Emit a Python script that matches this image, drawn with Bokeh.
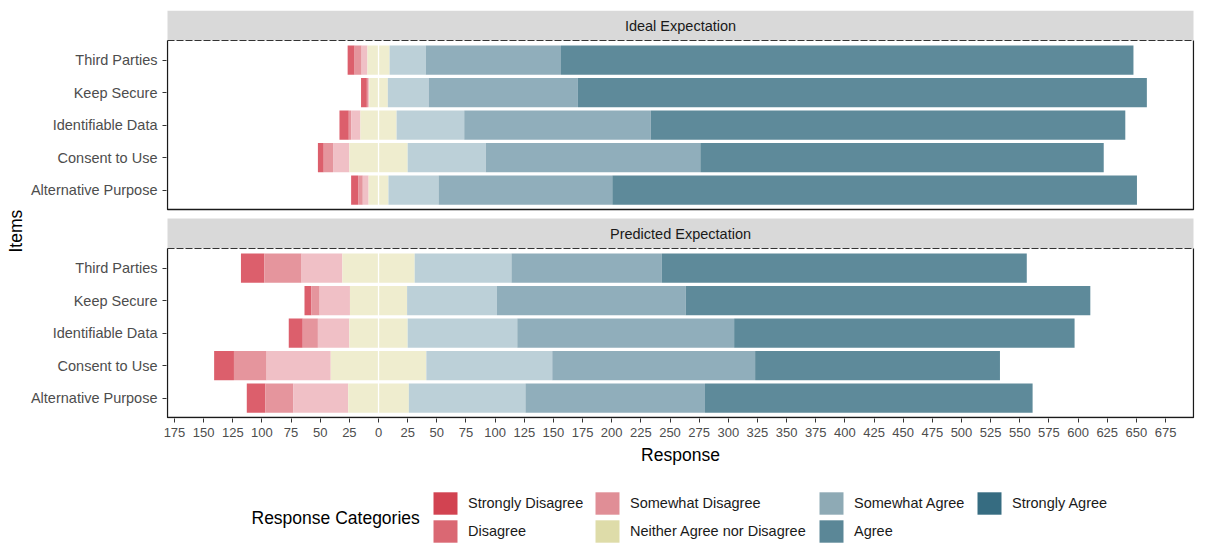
from bokeh.plotting import figure
from bokeh.layouts import column
from bokeh.models import Range1d, FixedTicker, Legend, LegendItem, Label, Title, ColumnDataSource
from bokeh.core.properties import value
from bokeh.embed import file_html
from bokeh.resources import INLINE

# ---------------- data ----------------
items = ["Third Parties", "Keep Secure", "Identifiable Data", "Consent to Use", "Alternative Purpose"]
panels = ["Ideal Expectation", "Predicted Expectation"]
categories = ["Strongly Disagree", "Disagree", "Somewhat Disagree",
              "Neither Agree nor Disagree", "Somewhat Agree", "Agree", "Strongly Agree"]

ideal_strongly_disagree = [6, 5, 8, 5, 6]
ideal_disagree = [6, 1, 2, 8, 4]
ideal_somewhat_disagree = [5, 1, 8, 14, 5]
ideal_neither = [19, 16, 31, 50, 17]
ideal_somewhat_agree = [31, 35, 58, 67, 43]
ideal_agree = [116, 128, 160, 184, 149]
ideal_strongly_agree = [491, 488, 407, 346, 450]

predicted_strongly_disagree = [20, 6, 12, 17, 16]
predicted_disagree = [32, 7, 13, 28, 24]
predicted_somewhat_disagree = [35, 26, 27, 55, 47]
predicted_neither = [62, 49, 50, 82, 52]
predicted_somewhat_agree = [83, 77, 94, 108, 100]
predicted_agree = [129, 162, 186, 174, 154]
predicted_strongly_agree = [313, 347, 292, 210, 281]

x_ticks = list(range(-175, 700, 25))
x_tick_labels = [str(abs(t)) for t in x_ticks]

# ---------------- styles ----------------
bar_colors = ["#dc5f6c", "#e5959d", "#f0c0c6", "#efedcf", "#bcd0d8", "#90aebb", "#5e8a9a"]
legend_colors = ["#d24351", "#da6873", "#e08e96", "#dedca9", "#8eaab5", "#5b8797", "#366c81"]
FONT = "Liberation Sans"

panel_data = {
    "Ideal Expectation": [ideal_strongly_disagree, ideal_disagree, ideal_somewhat_disagree,
                          ideal_neither, ideal_somewhat_agree, ideal_agree, ideal_strongly_agree],
    "Predicted Expectation": [predicted_strongly_disagree, predicted_disagree, predicted_somewhat_disagree,
                              predicted_neither, predicted_somewhat_agree, predicted_agree,
                              predicted_strongly_agree],
}

# layout (pixels)
W = 1214
H_MAIN, H_LEG = 480, 64
FRAME_LEFT, FRAME_TOP = 166, 10
FRAME_W, FRAME_H = 1028, 408
STRIP_H, PANEL_H, GAP = 30, 169, 9
pitch = PANEL_H / (len(items) - 1 + 1.2)
p2_bottom = 1
p2_top = p2_bottom + PANEL_H
s2_top = p2_top + STRIP_H
p1_bottom = s2_top + GAP
p1_top = p1_bottom + PANEL_H
s1_top = p1_top + STRIP_H
panel_box = {"Ideal Expectation": (p1_bottom, p1_top, s1_top),
             "Predicted Expectation": (p2_bottom, p2_top, s2_top)}

# ---------------- segment geometry from data ----------------
seg = {c: {"y": [], "left": [], "right": []} for c in categories}
all_left, all_right = [], []
tick_pos = {}
for pname in panels:
    sd, d, swd, n, swa, a, sa = panel_data[pname]
    bottom, top, _ = panel_box[pname]
    for i, item in enumerate(items):
        yc = top - (0.6 + i) * pitch
        tick_pos[yc] = item
        half = n[i] / 2.0
        edges_left = [-half]
        for v in (swd[i], d[i], sd[i]):
            edges_left.append(edges_left[-1] - v)
        edges_right = [half]
        for v in (swa[i], a[i], sa[i]):
            edges_right.append(edges_right[-1] + v)
        for k, cat in zip((1, 2, 3), ("Somewhat Disagree", "Disagree", "Strongly Disagree")):
            seg[cat]["y"].append(yc); seg[cat]["left"].append(edges_left[k]); seg[cat]["right"].append(edges_left[k - 1])
        seg["Neither Agree nor Disagree"]["y"].append(yc)
        seg["Neither Agree nor Disagree"]["left"].append(-half)
        seg["Neither Agree nor Disagree"]["right"].append(half)
        for k, cat in zip((1, 2, 3), ("Somewhat Agree", "Agree", "Strongly Agree")):
            seg[cat]["y"].append(yc); seg[cat]["left"].append(edges_right[k - 1]); seg[cat]["right"].append(edges_right[k])
        all_left.append(edges_left[-1]); all_right.append(edges_right[-1])

lo, hi = min(all_left), max(all_right)
xlo, xhi = lo - 0.05 * (hi - lo), hi + 0.05 * (hi - lo)
u = (xhi - xlo) / (FRAME_W - 2)

p = figure(width=W, height=H_MAIN, output_backend="svg", toolbar_location=None,
           x_range=Range1d(xlo - u, xhi + u), y_range=Range1d(0, FRAME_H),
           min_border_left=FRAME_LEFT, min_border_right=W - FRAME_LEFT - FRAME_W,
           min_border_top=FRAME_TOP, min_border_bottom=H_MAIN - FRAME_TOP - FRAME_H)
p.outline_line_color = None
p.xgrid.visible = False
p.ygrid.visible = False
p.background_fill_color = "white"
p.border_fill_color = "white"

# strips
for pname in panels:
    bottom, top, stop = panel_box[pname]
    p.quad(left=[xlo], right=[xhi], bottom=[top], top=[stop], fill_color="#d9d9d9", line_color=None)
    p.text(x=[(xlo + xhi) / 2], y=[(top + stop) / 2], text=[pname], text_align="center",
           text_baseline="middle", text_font=value(FONT), text_font_size="14.5px", text_color="#1a1a1a")

# bars
bar_h = 0.9 * pitch
for cat, col in zip(categories, bar_colors):
    src = ColumnDataSource(seg[cat])
    p.hbar(y="y", left="left", right="right", height=bar_h, source=src, fill_color=col, line_color=None)

# zero line and panel borders
for pname in panels:
    bottom, top, stop = panel_box[pname]
    p.segment(x0=[0], y0=[bottom], x1=[0], y1=[top], line_color="white", line_width=1.3)
    p.line(x=[xlo, xlo, xhi, xhi], y=[top, bottom, bottom, top], line_color="#1a1a1a", line_width=1.3)
    p.line(x=[xlo, xhi], y=[top, top], line_color="#333333", line_width=1.2, line_dash="7 2")

# axes
p.xaxis.ticker = FixedTicker(ticks=x_ticks)
p.xaxis.major_label_overrides = dict(zip(x_ticks, x_tick_labels))
p.xaxis.axis_label = "Response"
p.yaxis.ticker = FixedTicker(ticks=list(tick_pos.keys()))
p.yaxis.major_label_overrides = dict(tick_pos)
for ax in (p.xaxis[0], p.yaxis[0]):
    ax.axis_line_color = None
    ax.major_tick_in = 0
    ax.major_tick_out = 4
    ax.major_tick_line_color = "#333333"
    ax.minor_tick_line_color = None
    ax.major_label_text_font = FONT
    ax.major_label_text_color = "#4d4d4d"
    ax.major_label_standoff = 5
    ax.axis_label_text_font = FONT
    ax.axis_label_text_font_style = "normal"
    ax.axis_label_text_font_size = "17.5px"
    ax.axis_label_text_color = "black"
p.xaxis.major_label_text_font_size = "13px"
p.yaxis.major_label_text_font_size = "14.5px"
p.xaxis.axis_label_standoff = 5

# y-axis title "Items" (left side panel, placed a little below the frame centre as in the reference)
p.add_layout(Title(text="Items", align="left", offset=166, standoff=3, text_font=FONT,
                   text_font_size="17.5px", text_font_style="normal", text_color="black"), "left")

# ---------------- legend figure ----------------
lg = figure(width=W, height=H_LEG, output_backend="svg", toolbar_location=None,
            x_range=Range1d(0, FRAME_W), y_range=Range1d(0, H_LEG),
            x_axis_location=None, y_axis_location=None,
            min_border_left=FRAME_LEFT, min_border_right=W - FRAME_LEFT - FRAME_W,
            min_border_top=0, min_border_bottom=0)
lg.outline_line_color = None
lg.grid.visible = False
lg.background_fill_color = "white"
lg.border_fill_color = "white"

# key renderers: one point each, kept outside the visible range
dummies = [lg.hbar(y=[-100], left=[0], right=[1], height=1, fill_color=c, line_color=None)
           for c in legend_colors]
columns = [[0, 1], [2, 3], [4, 5], [6]]
col_x = [433, 595, 819, 977]          # left edge of the visible key squares
GW, GH, SP, TOP_OFF = 30, 28, 0, 9    # legend boxes (keys are drawn inset by 10%)
inset_x = round(GW * 0.1)
for col, vx in zip(columns, col_x):
    n_it = len(col)
    leg_h = n_it * GH + (n_it - 1) * SP
    vy = H_LEG - TOP_OFF - leg_h
    leg = Legend(items=[LegendItem(label=categories[k], renderers=[dummies[k]], index=0) for k in col],
                 location=(vx - inset_x - FRAME_LEFT, vy), orientation="vertical",
                 glyph_width=GW, glyph_height=GH, label_height=GH, label_width=20, spacing=SP,
                 padding=0, margin=0, label_standoff=8, label_text_font=FONT,
                 label_text_font_size="14.5px", label_text_color="#1a1a1a",
                 border_line_color=None, background_fill_alpha=0)
    lg.add_layout(leg)

lg.add_layout(Label(x=251 - FRAME_LEFT, y=H_LEG - TOP_OFF - GH - SP / 2, x_units="screen", y_units="screen",
                    text="Response Categories", text_align="left", text_baseline="middle",
                    text_font=FONT, text_font_size="17.5px", text_color="black"))

layout = column(p, lg, spacing=0)
open("out.html", "w").write(file_html(layout, INLINE))
